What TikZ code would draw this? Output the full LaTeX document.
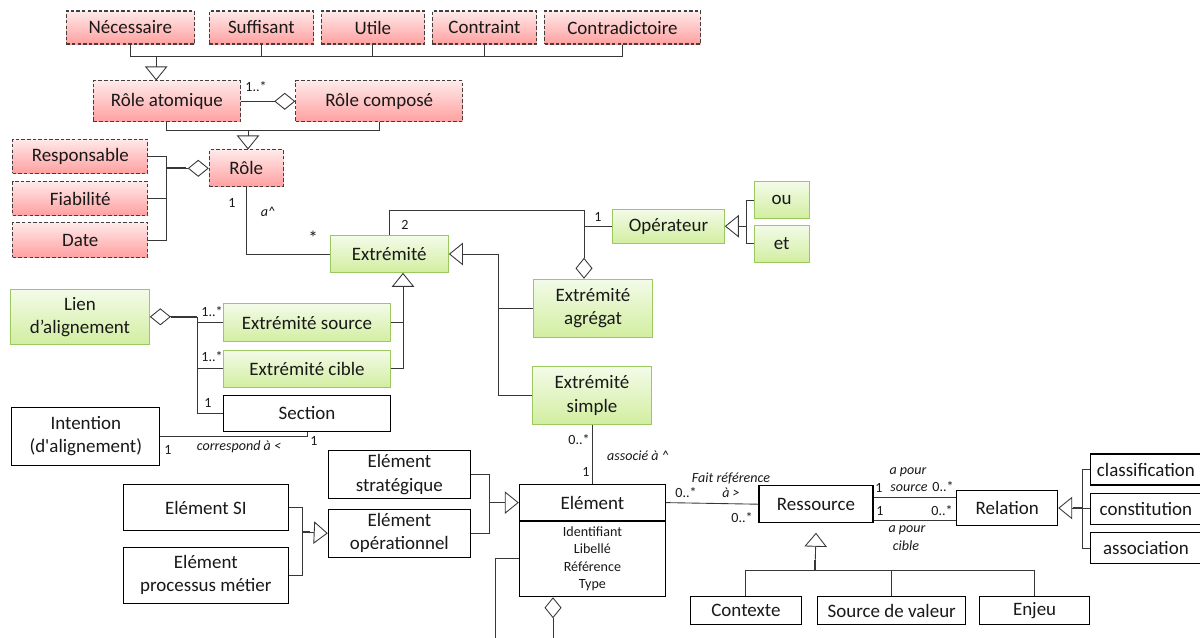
\documentclass[tikz,border=0pt]{standalone}
\usepackage{fontspec}
\setmainfont{Carlito}
\usetikzlibrary{positioning,arrows.meta,calc}
\definecolor{pinktop}{RGB}{255,233,233}
\definecolor{pinkbot}{RGB}{255,160,160}
\definecolor{greentop}{RGB}{243,251,232}
\definecolor{greenbot}{RGB}{210,238,160}
\definecolor{greenline}{RGB}{155,200,95}
\definecolor{linegray}{RGB}{55,55,55}

\begin{document}
\begin{tikzpicture}[x=0.02cm, y=-0.02cm,
  font=\fontsize{10.8}{13.2}\selectfont,
  every node/.style={inner sep=1pt, align=center, text=black!90},
  boxsize/.style 2 args={minimum width=#1*0.02cm, minimum height=#2*0.02cm},
  pinkbox/.style 2 args={boxsize={#1}{#2}, draw=black!75, line width=0.6pt, dash pattern=on 2pt off 1.2pt, top color=pinktop, bottom color=pinkbot},
  greenbox/.style 2 args={boxsize={#1}{#2}, draw=greenline, line width=0.6pt, top color=greentop, bottom color=greenbot},
  whitebox/.style 2 args={boxsize={#1}{#2}, draw=black, line width=0.6pt, fill=white},
  lbl/.style={font=\fontsize{8}{9.5}\selectfont, inner sep=0pt},
  ilbl/.style={lbl, font=\fontsize{8}{9.5}\selectfont\itshape},
  link/.style={draw=linegray, line width=0.5pt},
  gen/.style={link, -{Triangle[open, length=0.28cm, width=0.45cm]}},
  agg/.style={link, -{Diamond[open, length=0.42cm, width=0.34cm]}},
]
\clip (0,0) rectangle (1200,637);

\node[pinkbox={128}{33}] (nec) at (130.3,27.5) {Nécessaire};
\node[pinkbox={104}{33}, right=0.28cm of nec] (suf) {Suffisant};
\node[pinkbox={103}{33}, right=0.14cm of suf] (uti) {Utile};
\node[pinkbox={104}{33}, right=0.14cm of uti] (cnt) {Contraint};
\node[pinkbox={156}{33}, right=0.14cm of cnt] (ctd) {Contradictoire};
\node[pinkbox={147}{40.7}] (ratom) at (166.9,101.3) {Rôle atomique};
\node[pinkbox={166.8}{40.7}] (rcomp) at (379.2,101.3) {Rôle composé};
\node[pinkbox={74}{36.7}] (role) at (246.3,168.3) {Rôle};
\node[pinkbox={135.3}{34}] (resp) at (80.3,156.3) {Responsable};
\node[pinkbox={135.3}{33.3}, below=0.15cm of resp] (fiab) {Fiabilité};
\node[pinkbox={135.3}{34.6}, below=0.13cm of fiab] (date) {Date};

\node[greenbox={118.3}{36.6}] (extr) at (389.2,254) {Extrémité};
\node[greenbox={111.6}{34.3}] (oper) at (668.5,226.2) {Opérateur};
\node[greenbox={55.3}{36.6}] (ou) at (781.7,200) {ou};
\node[greenbox={55.3}{36.7}, below=0.12cm of ou] (et) {et};
\node[greenbox={119.4}{58}] (eagr) at (593,308.3) {Extrémité\\agrégat};
\node[greenbox={119.4}{57.6}] (esimp) at (592,395.5) {Extrémité\\simple};
\node[greenbox={138.6}{55}] (lien) at (80,316.8) {Lien\\d’alignement};
\node[greenbox={167.4}{37.7}] (esrc) at (307,322.8) {Extrémité source};
\node[greenbox={167.4}{37.4}, below=0.15cm of esrc] (ecib) {Extrémité cible};

\node[whitebox={167.4}{36}, below=0.13cm of ecib] (sect) {Section};
\node[whitebox={148.3}{58}] (intent) at (85.8,436.3) {Intention\\(d\textquotesingle alignement)};
\node[whitebox={142.2}{47.6}] (estrat) at (399.4,474.5) {Elément\\stratégique};
\node[whitebox={142.2}{47.7}, below=0.2cm of estrat] (eop) {Elément\\opérationnel};
\node[whitebox={165}{46.4}] (esi) at (205.8,507.5) {Elément SI};
\node[whitebox={165}{56}] (eproc) at (205.8,575.3) {Elément\\processus métier};
\node[whitebox={146.2}{36.7}] (elem) at (592.4,502.6) {Elément};
\node[whitebox={146.2}{75.7}, font=\fontsize{8}{10}\selectfont] (eattr) at (592.4,558.85) {Identifiant\\Libellé\\Référence\\Type};
\node[whitebox={114}{37}] (ress) at (816,504.2) {Ressource};
\node[whitebox={101}{34.4}] (rel) at (1007.2,508) {Relation};
\node[whitebox={110.3}{31}] (clas) at (1145.9,469.5) {classification};
\node[whitebox={110.3}{30.7}] (cons) at (1145.9,508.7) {constitution};
\node[whitebox={110.3}{31.3}] (asso) at (1145.9,548.3) {association};
\node[whitebox={111}{27.6}] (ctx) at (745.9,610.5) {Contexte};
\node[whitebox={148.3}{27.6}] (srcv) at (891.7,610.5) {Source de valeur};
\node[whitebox={110.2}{27.6}] (enj) at (1034.6,610.5) {Enjeu};

\coordinate (topbus) at (156.2,56.7);
\coordinate (rbus) at (248,130);
\coordinate (pbus) at (166.7,168.3);
\coordinate (opj) at (584,210);
\coordinate (oj) at (746.7,226.2);
\coordinate (spj) at (498,254);
\coordinate (ecj) at (403,300);
\coordinate (lj) at (197.3,316.8);
\coordinate (ej) at (302.3,532.1);
\coordinate (ek) at (489,502.6);
\coordinate (rj) at (1082.7,508);
\coordinate (rsj) at (815,570);
\coordinate (rtip) at ([yshift=-0.19cm]ress.south);
\coordinate (cuta) at (495,645);
\coordinate (cutb) at (553,645);

\foreach \n in {nec,suf,uti,cnt,ctd} \draw[link] (\n.south) |- (topbus);
\draw[gen] (topbus) -- (topbus |- ratom.north);
\draw[agg] (ratom) -- (rcomp);
\foreach \n in {ratom,rcomp} \draw[link] (\n.south) |- (rbus);
\draw[gen] (rbus) -- (rbus |- role.north);
\foreach \n in {resp,fiab,date} \draw[link] (\n.east) -| (pbus);
\draw[link, line width=1.3pt] (pbus) -- ++(19,0);
\draw[agg] (pbus) -- (role.west);
\draw[link] (role.south) |- (extr.west);
\draw[link] (extr.north) |- (opj);
\draw[agg] (opj) -- (opj |- eagr.north);
\draw[link] (oper.west) -- (oper.west -| opj);
\foreach \n in {ou,et} \draw[link] (\n.west) -| (oj);
\draw[gen] (oj) -- (oper.east);
\foreach \n in {eagr,esimp} \draw[link] (\n.west) -| (spj);
\draw[gen] (spj) -- (extr.east);
\foreach \n in {esrc,ecib} \draw[link] (\n.east) -| (ecj);
\draw[gen] (ecj) -- (ecj |- extr.south);
\foreach \n in {esrc,ecib,sect} \draw[link] (\n.west) -| (lj);
\draw[link, line width=1.3pt] (lj) -- ++(-26,0);
\draw[agg] (lj) -- (lien.east);
\draw[link] (intent.east) -| (sect.south);
\foreach \n in {esi,eproc} \draw[link] (\n.east) -| (ej);
\draw[link, line width=1.1pt] (ej) -- ++(8,0);
\draw[gen] (ej) -- (eop.west);
\foreach \n in {estrat,eop} \draw[link] (\n.east) -| (ek);
\draw[gen] (ek) -- (elem.west);
\draw[link] (esimp.south) -- (esimp.south |- elem.north);
\draw[link] (elem.east) -- (ress.west);
\draw[link] (ress.east |- 0,497.3) -- (rel.west |- 0,497.3);
\draw[link] (ress.east |- 0,520.7) -- (rel.west |- 0,520.7);
\foreach \n in {clas,cons,asso} \draw[link] (\n.west) -| (rj);
\draw[link, line width=1.1pt] (rj) -- ++(-10,0);
\draw[gen] (rj) -- (rel.east);
\foreach \n in {ctx,srcv,enj} \draw[link] (\n.north) |- (rsj);
\draw[link, line width=1.1pt] (rsj) -- ++(0,-10);
\draw[gen] (rsj) -- (rtip);
\draw[link] (eattr.west) -| (cuta);
\draw[agg] (cutb) -- (cutb |- eattr.south);

\node[lbl] (m1) at (256,87) {1..*};
\node[lbl] (m2) at (232,203) {1};
\node[ilbl] (m3) at (268,212) {a\textasciicircum};
\node[inner sep=0pt] (m4) at (313,238) {*};
\node[lbl] (m5) at (405,225) {2};
\node[lbl] (m6) at (598,217) {1};
\node[lbl] (m7) at (212,312) {1..*};
\node[lbl] (m8) at (212,357) {1..*};
\node[lbl] (m9) at (208,403) {1};
\node[lbl] (m10) at (168,450) {1};
\node[lbl] (m11) at (314,441) {1};
\node[ilbl] (m12) at (239,447) {correspond à <};
\node[lbl, anchor=east] (m13) at (590,440) {0..*};
\node[ilbl] (m14) at (638,456) {associé à \textasciicircum};
\node[lbl] (m15) at (586,472) {1};
\node[ilbl] (m16) at (731,478) {Fait référence};
\node[lbl] (m17) at (686,493) {0..*};
\node[ilbl] (m18) at (731,493) {à >};
\node[lbl] (m19) at (742,518) {0..*};
\node[ilbl] (m20) at (908,472) {a pour};
\node[lbl] (m21) at (879,488) {1};
\node[ilbl] (m22) at (909,488) {source};
\node[lbl] (m23) at (943,487) {0..*};
\node[lbl] (m24) at (880,511) {1};
\node[lbl] (m25) at (942,511) {0..*};
\node[ilbl] (m26) at (907,530) {a pour};
\node[ilbl] (m27) at (906,546) {cible};
\end{tikzpicture}
\end{document}
